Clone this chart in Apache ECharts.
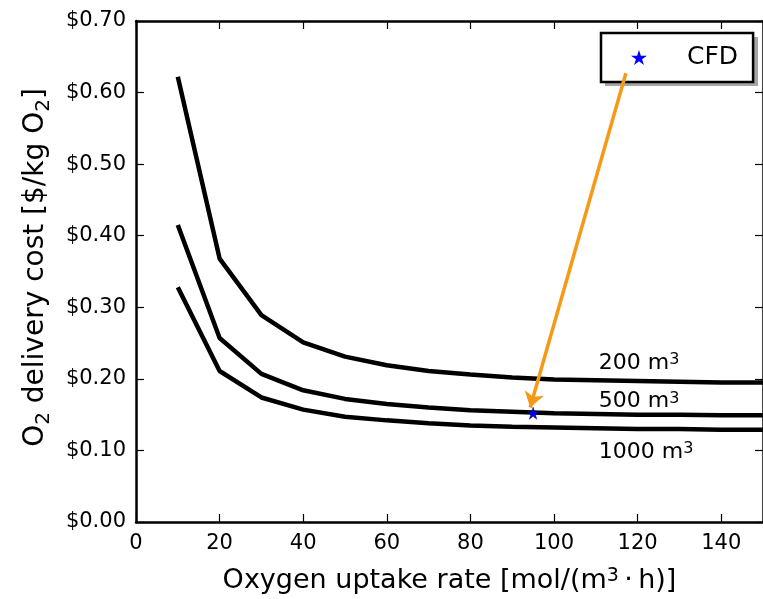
<!DOCTYPE html>
<html>
<head>
<meta charset="utf-8">
<script src="https://cdn.jsdelivr.net/npm/echarts@6/dist/echarts.min.js"></script>
<style>
html,body{margin:0;padding:0;background:#fff;}
#c{width:763px;height:599px;}
</style>
</head>
<body>
<div id="c"></div>
<script>
// ---- data ----
const xValues = [10, 20, 30, 40, 50, 60, 70, 80, 90, 100, 110, 120, 130, 140, 150];
const cost200 = [0.622, 0.368, 0.289, 0.251, 0.231, 0.219, 0.211, 0.206, 0.202, 0.199, 0.198, 0.197, 0.196, 0.195, 0.195];
const cost500 = [0.415, 0.257, 0.207, 0.184, 0.172, 0.165, 0.160, 0.156, 0.154, 0.152, 0.151, 0.150, 0.150, 0.149, 0.149];
const cost1000 = [0.328, 0.211, 0.174, 0.157, 0.147, 0.142, 0.138, 0.135, 0.133, 0.132, 0.131, 0.130, 0.130, 0.129, 0.129];
const cfdPoint = [95, 0.152];
const arrowStart = [117.2, 0.627];
const arrowEnd = [94.3, 0.160];
const curveLabels = ['200 m{sup|3}', '500 m{sup|3}', '1000 m{sup|3}'];
const curveLabelX = [110, 110, 110];
const curveLabelY = [0.222, 0.168, 0.098];

const FONT = 'DejaVu Sans';
const starPath = 'path://M50,0 L61.8,35.1 L100,35.1 L69.1,57.6 L80.9,92.7 L50,70.5 L19.1,92.7 L30.9,57.6 L0,35.1 L38.2,35.1 Z';

function pairs(ys) { return xValues.map((x, i) => [x, ys[i]]); }

const chart = echarts.init(document.getElementById('c'), null, {renderer: 'canvas'});

const axisLineStyle = {color: '#000', width: 2.5};
const tickStyle = {color: '#000', width: 1.2};

const lineSeries = (name, ys) => ({
  name: name, type: 'line', data: pairs(ys), showSymbol: false, symbol: 'none',
  lineStyle: {color: '#000', width: 4.5}, itemStyle: {color: '#000'},
  smooth: false, animation: false, z: 2
});

chart.setOption({
  animation: false,
  grid: {left: 136, top: 21, width: 632, height: 503, containLabel: false},
  graphic: [{
    type: 'rect', z: 3, silent: true,
    shape: {x: 605, y: 37, width: 153, height: 49},
    style: {fill: 'rgba(150,150,150,0.85)'}
  }],
  legend: {
    data: [{name: 'CFD', icon: starPath, itemStyle: {color: '#0000ff', borderWidth: 0}}],
    left: 601, top: 33, z: 4,
    orient: 'vertical',
    padding: [11, 15, 11, 30],
    itemWidth: 16, itemHeight: 16,
    backgroundColor: '#fff',
    borderColor: '#000', borderWidth: 2.5, borderRadius: 0,
    textStyle: {fontFamily: FONT, fontSize: 25, color: '#000', lineHeight: 27, padding: [0, 0, 0, 35]},
    selectedMode: false
  },
  xAxis: [{
    type: 'value', min: 0, max: 150, interval: 20, position: 'bottom',
    name: 'Oxygen uptake rate [mol/(m{sup|3}\u2009\u00b7\u2009h)]',
    nameLocation: 'middle', nameGap: 45,
    nameTextStyle: {fontFamily: FONT, fontSize: 27, color: '#000',
      rich: {sup: {fontFamily: FONT, fontSize: 19, verticalAlign: 'top', lineHeight: 19}}},
    axisLine: {show: true, onZero: false, lineStyle: axisLineStyle},
    axisTick: {show: true, inside: true, length: 8, lineStyle: tickStyle},
    axisLabel: {show: true, fontFamily: FONT, fontSize: 21, color: '#000', margin: 11, showMaxLabel: false},
    splitLine: {show: false}
  }, {
    type: 'value', min: 0, max: 150, interval: 20, position: 'top',
    axisLine: {show: true, onZero: false, lineStyle: axisLineStyle},
    axisTick: {show: true, inside: true, length: 8, lineStyle: tickStyle},
    axisLabel: {show: false}, splitLine: {show: false}
  }],
  yAxis: [{
    type: 'value', min: 0, max: 0.7, interval: 0.1, position: 'left',
    name: '{n|O}{s|2}{n| delivery cost [$/kg O}{s|2}{n|]}',
    nameLocation: 'middle', nameGap: 82, nameRotate: 90,
    nameTextStyle: {fontFamily: FONT, fontSize: 28, color: '#000', padding: [0, 0, 0, 8],
      rich: {
        n: {fontFamily: FONT, fontSize: 28, color: '#000', lineHeight: 36},
        s: {fontFamily: FONT, fontSize: 20, color: '#000', lineHeight: 20, verticalAlign: 'bottom'}
      }},
    axisLine: {show: true, onZero: false, lineStyle: axisLineStyle},
    axisTick: {show: true, inside: true, length: 8, lineStyle: tickStyle},
    axisLabel: {show: true, fontFamily: FONT, fontSize: 21, color: '#000', margin: 10,
      formatter: v => '$' + v.toFixed(2)},
    splitLine: {show: false}
  }, {
    type: 'value', min: 0, max: 0.7, interval: 0.1, position: 'right',
    axisLine: {show: true, onZero: false, lineStyle: axisLineStyle},
    axisTick: {show: true, inside: true, length: 8, lineStyle: tickStyle},
    axisLabel: {show: false}, splitLine: {show: false}
  }],
  series: [
    lineSeries('200 m3', cost200),
    lineSeries('500 m3', cost500),
    lineSeries('1000 m3', cost1000),
    {
      name: 'curve labels', type: 'scatter', symbolSize: 0, silent: true,
      itemStyle: {color: '#000', opacity: 1},
      data: curveLabelX.map((x, i) => ({value: [x, curveLabelY[i]], label: {formatter: curveLabels[i]}})),
      label: {show: true, position: 'right', distance: 0, offset: [3, 0], align: 'left', verticalAlign: 'middle',
        fontFamily: FONT, fontSize: 22, color: '#000', opacity: 1,
        rich: {sup: {fontFamily: FONT, fontSize: 16, color: '#000', verticalAlign: 'top', lineHeight: 16}}},
      z: 3
    },
    {
      name: 'CFD', type: 'scatter', data: [cfdPoint], symbol: starPath, symbolSize: 12,
      itemStyle: {color: '#0000ff', borderColor: '#00003a', borderWidth: 0.5, opacity: 1},
      z: 6,
      markLine: {
        silent: true, animation: false,
        symbol: ['none', 'arrow'], symbolSize: 15,
        label: {show: false},
        lineStyle: {color: '#f59a16', width: 3.5, type: 'solid', opacity: 1},
        data: [[{coord: arrowStart}, {coord: arrowEnd}]]
      }
    }
  ]
});
</script>
</body>
</html>
